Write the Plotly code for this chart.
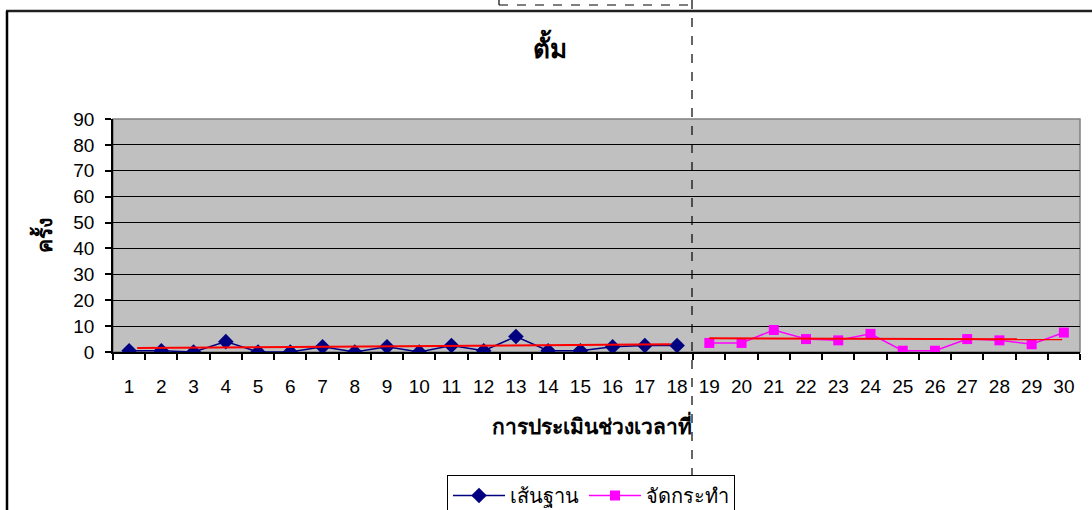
import plotly.graph_objects as go

# Sessions (assessment periods) and counts per phase
baseline_sessions = list(range(1, 19))
baseline_counts = [0.5, 0.5, 0, 4, 0, 0, 2, 0, 2, 0, 2.5, 0.5, 6, 0.5, 0.5, 2, 2.5, 2.5]

treatment_sessions = list(range(19, 31))
treatment_counts = [3.5, 3.5, 8.5, 5, 4.5, 7, 0.5, 0.5, 5, 4.5, 3, 7.5]

# Trend lines drawn across each phase
baseline_trend_x = [1.25, 17.8]
baseline_trend_y = [1.5, 3.0]
treatment_trend_x = [19, 29.95]
treatment_trend_y = [5.3, 4.9]

y_ticks = [0, 10, 20, 30, 40, 50, 60, 70, 80, 90]
x_ticks = list(range(1, 31))

title_text = "ตั้ม"
x_title = "การประเมินช่วงเวลาที่"
y_title = "ครั้ง"
baseline_name = "เส้นฐาน"
treatment_name = "จัดกระทำ"

FONT = "Tahoma, 'Liberation Sans', Arial, sans-serif"

W, H = 1092, 510
L, R, T, B = 113, 12, 119, 158
PW = W - L - R
PH = H - T - B


def px_x(px):
    return (px - L) / PW


def px_y(py):
    return (H - B - py) / PH


fig = go.Figure()

fig.add_trace(go.Scatter(
    x=baseline_sessions, y=baseline_counts, name=baseline_name,
    mode="lines+markers",
    line=dict(color="#000080", width=1.5),
    marker=dict(symbol="diamond", size=12, color="#000080"),
))
fig.add_trace(go.Scatter(
    x=treatment_sessions, y=treatment_counts, name=treatment_name,
    mode="lines+markers",
    line=dict(color="#FF00FF", width=1.5),
    marker=dict(symbol="square", size=10, color="#FF00FF"),
))
fig.add_trace(go.Scatter(
    x=baseline_trend_x, y=baseline_trend_y, mode="lines",
    line=dict(color="#FF0000", width=2), showlegend=False, hoverinfo="skip",
))
fig.add_trace(go.Scatter(
    x=treatment_trend_x, y=treatment_trend_y, mode="lines",
    line=dict(color="#FF0000", width=2), showlegend=False, hoverinfo="skip",
))

# Chart-area frame (top and left edges), plot border, phase divider and text box edge
shapes = [
    dict(type="rect", xref="paper", yref="paper", x0=0, x1=1, y0=0, y1=1,
         line=dict(color="#808080", width=1.5), layer="below"),
    dict(type="line", xref="paper", yref="paper",
         x0=px_x(6), x1=px_x(1092), y0=px_y(11), y1=px_y(11),
         line=dict(color="#202020", width=2.5)),
    dict(type="line", xref="paper", yref="paper",
         x0=px_x(7), x1=px_x(7), y0=px_y(11), y1=px_y(510),
         line=dict(color="black", width=2.5)),
    dict(type="line", xref="paper", yref="paper",
         x0=px_x(692), x1=px_x(692), y0=px_y(0), y1=px_y(510),
         line=dict(color="black", width=1.2, dash="dash")),
    dict(type="line", xref="paper", yref="paper",
         x0=px_x(499), x1=px_x(692), y0=px_y(5), y1=px_y(5),
         line=dict(color="black", width=1.2, dash="dash")),
    dict(type="line", xref="paper", yref="paper",
         x0=px_x(499), x1=px_x(499), y0=px_y(0), y1=px_y(5),
         line=dict(color="black", width=1.2)),
]

annotations = [
    dict(text="<b>%s</b>" % title_text, xref="paper", yref="paper",
         x=px_x(550), y=px_y(27), showarrow=False,
         font=dict(family=FONT, size=26, color="black")),
    dict(text="<b>%s</b>" % x_title, xref="paper", yref="paper",
         x=px_x(592), y=px_y(440), showarrow=False,
         font=dict(family=FONT, size=21, color="black")),
    dict(text="<b>%s</b>" % y_title, xref="paper", yref="paper",
         x=px_x(26), y=px_y(235), showarrow=False, textangle=-90,
         font=dict(family=FONT, size=21, color="black")),
]

fig.update_layout(
    width=W, height=H,
    margin=dict(l=L, r=R, t=T, b=B, pad=0, autoexpand=False),
    paper_bgcolor="white",
    plot_bgcolor="#C0C0C0",
    font=dict(family=FONT, size=18, color="black"),
    shapes=shapes,
    annotations=annotations,
    showlegend=True,
    legend=dict(
        orientation="h",
        xref="container", yref="container",
        x=447 / W, y=1 - 475 / H, xanchor="left", yanchor="top",
        bordercolor="black", borderwidth=1, bgcolor="white",
        font=dict(family=FONT, size=20, color="black"),
        itemwidth=52, tracegroupgap=0,
    ),
)

fig.update_xaxes(
    range=[0.5, 30.5], tickvals=x_ticks, ticktext=[str(v) for v in x_ticks],
    ticks="", showgrid=False, zeroline=False, automargin=False,
    showline=True, linecolor="black", linewidth=1.5, mirror=False,
    ticklabelstandoff=16,
    tickfont=dict(family=FONT, size=19, color="black"),
    minor=dict(ticks="outside", tick0=0.5, dtick=1, ticklen=6,
               tickcolor="black", tickwidth=1.5, showgrid=False),
)
fig.update_yaxes(
    range=[0, 90], tickvals=y_ticks, ticks="outside", ticklen=6,
    tickcolor="black", tickwidth=1.5, automargin=False,
    ticklabelstandoff=7,
    showgrid=True, gridcolor="black", gridwidth=1.2, zeroline=False,
    showline=True, linecolor="black", linewidth=1.5,
    tickfont=dict(family=FONT, size=19, color="black"),
)

fig.write_html("out.html")
